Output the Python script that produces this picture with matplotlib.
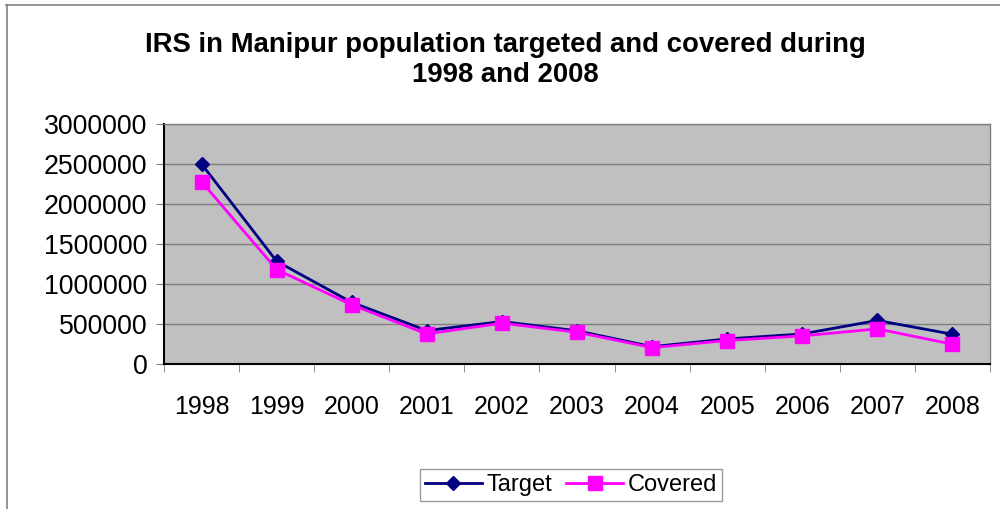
import numpy as np
import matplotlib
matplotlib.use("Agg")
import matplotlib.pyplot as plt
from matplotlib.lines import Line2D
from matplotlib.ticker import FixedLocator, NullFormatter

plt.rcParams['font.family'] = ['Liberation Sans', 'DejaVu Sans']

# datos
years = ['1998', '1999', '2000', '2001', '2002', '2003', '2004', '2005', '2006', '2007', '2008']
target = [2500000, 1284000, 770000, 418000, 531000, 415000, 217000, 313000, 376000, 544000, 372000]
covered = [2280000, 1180000, 740000, 376000, 510000, 397000, 205000, 293000, 351000, 439000, 247000]
y_ticks = [0, 500000, 1000000, 1500000, 2000000, 2500000, 3000000]

fig = plt.figure(figsize=(10, 5.09), dpi=100)

# marco exterior del grafico (solo arriba e izquierda visibles)
fig.add_artist(Line2D([0.006, 1.0], [1 - 5 / 509, 1 - 5 / 509], color='#808080', lw=1.2))
fig.add_artist(Line2D([0.0065, 0.0065], [1 - 5 / 509, 0.0], color='#808080', lw=1.2))

ax = fig.add_axes([0.164, 0.2849, 0.826, 0.4715])
ax.set_facecolor('#c0c0c0')

x = np.arange(len(years))
ax.plot(x, target, color='#000080', lw=2, marker='D', markersize=7, label='Target', zorder=3)
ax.plot(x, covered, color='#ff00ff', lw=2, marker='s', markersize=10, label='Covered', zorder=4)

ax.set_xlim(-0.5, len(years) - 0.5)
ax.set_ylim(0, 3000000)
ax.set_yticks(y_ticks)
ax.set_yticklabels([str(v) for v in y_ticks], fontsize=19.3)
ax.grid(axis='y', color='#808080', lw=1)
ax.set_axisbelow(True)

ax.set_xticks(x)
ax.set_xticklabels(years, fontsize=18)
ax.tick_params(axis='x', which='major', length=0, pad=22)
ax.xaxis.set_minor_locator(FixedLocator(np.arange(-0.5, len(years), 1)))
ax.xaxis.set_minor_formatter(NullFormatter())
ax.tick_params(axis='x', which='minor', length=6, color='#808080', direction='out')
ax.tick_params(axis='y', length=6, color='#808080', direction='out', pad=6)

for side in ['top', 'right']:
    ax.spines[side].set_color('#808080')
    ax.spines[side].set_linewidth(1)
for side in ['left', 'bottom']:
    ax.spines[side].set_color('black')
    ax.spines[side].set_linewidth(1.5)

fig.text(0.505, 1 - 60 / 509, 'IRS in Manipur population targeted and covered during\n1998 and 2008',
         ha='center', va='center', fontsize=19.8, fontweight='bold', linespacing=1.22)

leg = fig.legend(loc='center', bbox_to_anchor=(0.571, 1 - 485 / 509), ncol=2, fontsize=17,
                 frameon=True, fancybox=False, edgecolor='#808080', handlelength=2.4,
                 borderpad=0.2, columnspacing=0.6, handletextpad=0.2, borderaxespad=0)
leg.get_frame().set_linewidth(1)

fig.savefig('out.png', dpi=100)
